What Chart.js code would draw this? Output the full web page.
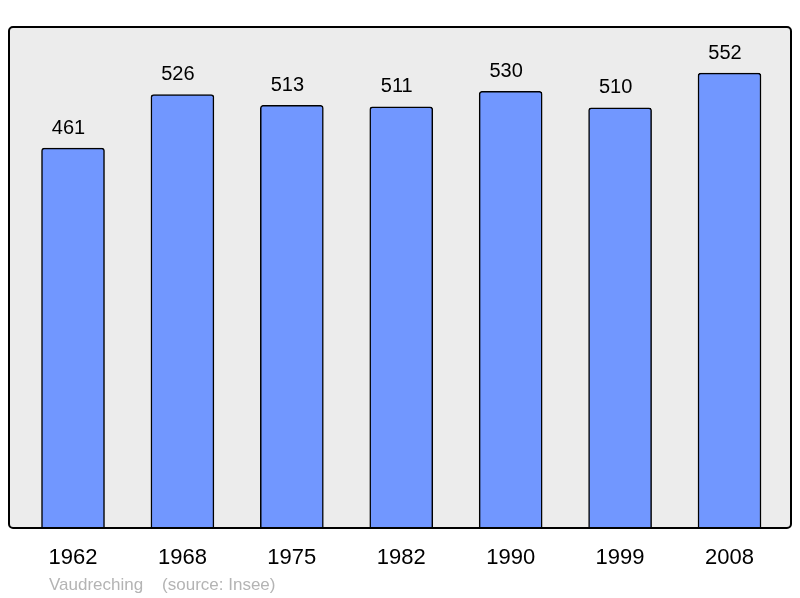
<!DOCTYPE html>
<html>
<head>
<meta charset="utf-8">
<script src="https://cdn.jsdelivr.net/npm/chart.js@4/dist/chart.umd.min.js"></script>
<style>
html,body{margin:0;padding:0;background:#fff;}
#wrap{width:800px;height:598px;position:relative;}
</style>
</head>
<body>
<div id="wrap"><canvas id="c" width="800" height="598"></canvas></div>
<script>
const years = ["1962","1968","1975","1982","1990","1999","2008"];
const population = [461, 526, 513, 511, 530, 510, 552];
const townName = "Vaudreching";
const sourceText = "(source: Insee)";

const FONT = "'Liberation Sans', Arial, sans-serif";

const plotFrame = {
  id: 'plotFrame',
  beforeDatasetsDraw(chart) {
    const {ctx, chartArea: a} = chart;
    ctx.save();
    ctx.fillStyle = '#ececec';
    ctx.beginPath();
    ctx.roundRect(a.left, a.top, a.right - a.left, a.bottom - a.top, 4);
    ctx.fill();
    ctx.restore();
  },
  afterDatasetsDraw(chart) {
    const {ctx, chartArea: a} = chart;
    ctx.save();
    ctx.strokeStyle = '#000';
    ctx.lineWidth = 2;
    ctx.beginPath();
    ctx.roundRect(a.left, a.top, a.right - a.left, a.bottom - a.top, 4);
    ctx.stroke();
    // value labels
    const meta = chart.getDatasetMeta(0);
    ctx.fillStyle = '#000';
    ctx.font = '20px ' + FONT;
    ctx.textAlign = 'center';
    ctx.textBaseline = 'alphabetic';
    meta.data.forEach((bar, i) => {
      ctx.fillText(String(population[i]), bar.x - 4.5, bar.y - 14.5);
    });
    // footer
    ctx.fillStyle = '#b4b4b4';
    ctx.font = '17px ' + FONT;
    ctx.textAlign = 'left';
    ctx.fillText(townName + '    ' + sourceText, 49, 590);
    ctx.restore();
  }
};

new Chart(document.getElementById('c'), {
  type: 'bar',
  data: {
    datasets: [{
      data: population.map((v, i) => ({x: i, y: v})),
      backgroundColor: '#7197ff',
      borderColor: '#000',
      borderWidth: 1.5,
      borderRadius: 3,
      borderSkipped: 'start',
      barThickness: 63
    }]
  },
  options: {
    responsive: false,
    animation: false,
    events: [],
    layout: {padding: {left: 9, right: 9, top: 27, bottom: 0}},
    plugins: {legend: {display: false}, tooltip: {enabled: false}},
    scales: {
      x: {
        type: 'linear',
        offset: false,
        min: -0.585,
        max: 6.562,
        grid: {display: false, drawTicks: false, offset: false},
        border: {display: false},
        afterBuildTicks: s => { s.ticks = years.map((_, i) => ({value: i})); },
        afterFit: s => { s.height = 70; },
        ticks: {
          autoSkip: false,
          maxRotation: 0,
          padding: 17,
          color: '#000',
          font: {family: FONT, size: 22},
          callback: v => years[v]
        }
      },
      y: {
        display: false,
        min: 0,
        max: 608
      }
    }
  },
  plugins: [plotFrame]
});
</script>
</body>
</html>
